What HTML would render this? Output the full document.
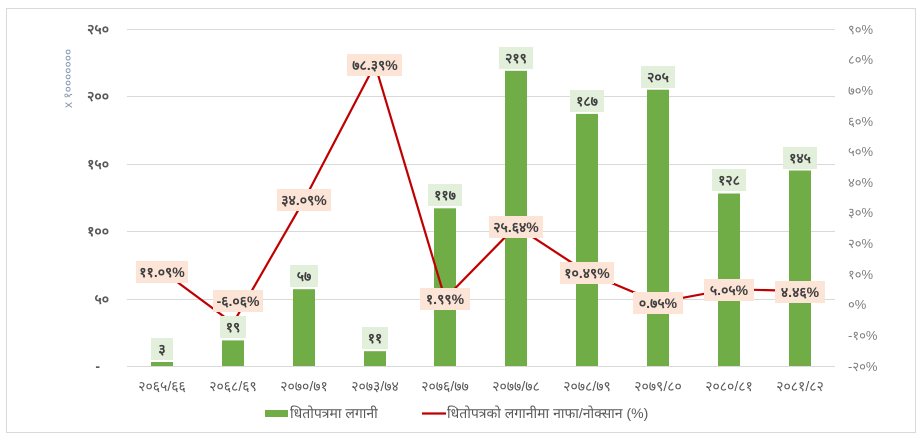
<!DOCTYPE html>
<html><head><meta charset="utf-8"><style>
html,body{margin:0;padding:0;background:#fff;}
svg{display:block;font-family:"Liberation Sans","Noto Sans CJK SC",sans-serif;}
</style></head><body>
<svg width="922" height="441" viewBox="0 0 922 441" xmlns="http://www.w3.org/2000/svg">
<rect x="6.5" y="8.5" width="909" height="424" fill="#fff" stroke="#d9d9d9"/>
<g stroke="#d9d9d9" stroke-width="1">
<line x1="127" x2="835" y1="29.5" y2="29.5"/>
<line x1="127" x2="835" y1="96.5" y2="96.5"/>
<line x1="127" x2="835" y1="164.5" y2="164.5"/>
<line x1="127" x2="835" y1="231.5" y2="231.5"/>
<line x1="127" x2="835" y1="299.5" y2="299.5"/>
<line x1="127" x2="835" y1="366.5" y2="366.5"/>
</g>
<g font-size="14" fill="#595959" text-anchor="end" font-weight="bold">
<text x="109" y="34">२५०</text>
<text x="109" y="101">२००</text>
<text x="109" y="169">१५०</text>
<text x="109" y="236">१००</text>
<text x="109" y="304">५०</text>
<text x="100" y="371">-</text>
</g>
<text transform="translate(72,108) rotate(-90)" font-size="12" fill="#8497b0">x १०००००००</text>
<g font-size="13" fill="#7f7f7f">
<text x="848" y="34">९०%</text>
<text x="848" y="64">८०%</text>
<text x="848" y="95">७०%</text>
<text x="848" y="126">६०%</text>
<text x="848" y="156">५०%</text>
<text x="848" y="187">४०%</text>
<text x="848" y="217">३०%</text>
<text x="848" y="248">२०%</text>
<text x="848" y="279">१०%</text>
<text x="848" y="309">०%</text>
<text x="848" y="340">-१०%</text>
<text x="848" y="371">-२०%</text>
</g>
<g fill="#70ad47">
<rect x="151" y="362" width="22" height="4"/>
<rect x="222" y="340.4" width="22" height="25.6"/>
<rect x="293" y="289.2" width="22" height="76.8"/>
<rect x="364" y="351.2" width="22" height="14.8"/>
<rect x="434" y="208.3" width="22" height="157.7"/>
<rect x="505" y="70.8" width="22" height="295.2"/>
<rect x="576" y="113.9" width="22" height="252.1"/>
<rect x="647" y="89.7" width="22" height="276.3"/>
<rect x="718" y="193.5" width="22" height="172.5"/>
<rect x="789" y="170.5" width="22" height="195.5"/>
</g>
<polyline fill="none" stroke="#c00000" stroke-width="2.2" points="162,270.7 233,323.3 304,200.2 375,64.5 445,298.6 516,226.1 587,272.6 658,302.4 729,289.2 800,291"/>
<g font-size="14" font-weight="bold" fill="#404040" text-anchor="middle">
<rect x="151" y="338" width="22" height="22" fill="#e2efda"/><text x="162" y="354">३</text>
<rect x="220" y="316" width="26" height="22" fill="#e2efda"/><text x="233" y="332">१९</text>
<rect x="290" y="265" width="28" height="22" fill="#e2efda"/><text x="304" y="281">५७</text>
<rect x="362" y="327" width="26" height="22" fill="#e2efda"/><text x="375" y="343">११</text>
<rect x="428" y="184" width="34" height="22" fill="#e2efda"/><text x="445" y="200">११७</text>
<rect x="499" y="47" width="34" height="22" fill="#e2efda"/><text x="516" y="63">२१९</text>
<rect x="570" y="90" width="34" height="22" fill="#e2efda"/><text x="587" y="106">१८७</text>
<rect x="641" y="66" width="34" height="22" fill="#e2efda"/><text x="658" y="82">२०५</text>
<rect x="712" y="169" width="34" height="22" fill="#e2efda"/><text x="729" y="185">१२८</text>
<rect x="783" y="147" width="34" height="22" fill="#e2efda"/><text x="800" y="163">१४५</text>

<rect x="136" y="261" width="52" height="22" fill="#fce4d6"/><text x="162" y="277">११.०९%</text>
<rect x="213" y="290" width="50" height="22" fill="#fce4d6"/><text x="238" y="306">-६.०६%</text>
<rect x="277" y="189" width="54" height="22" fill="#fce4d6"/><text x="304" y="205">३४.०९%</text>
<rect x="347" y="54" width="55" height="22" fill="#fce4d6"/><text x="375" y="70">७८.३९%</text>
<rect x="420" y="288" width="50" height="22" fill="#fce4d6"/><text x="445" y="304">१.९९%</text>
<rect x="489" y="216" width="54" height="22" fill="#fce4d6"/><text x="516" y="232">२५.६४%</text>
<rect x="560" y="262" width="54" height="22" fill="#fce4d6"/><text x="587" y="278">१०.४९%</text>
<rect x="633" y="292" width="50" height="22" fill="#fce4d6"/><text x="658" y="308">०.७५%</text>
<rect x="704" y="279" width="50" height="22" fill="#fce4d6"/><text x="729" y="295">५.०५%</text>
<rect x="775" y="281" width="50" height="22" fill="#fce4d6"/><text x="800" y="297">४.४६%</text>
</g>
<g font-size="14" fill="#595959" text-anchor="middle">
<text x="162" y="391">२०६५/६६</text>
<text x="233" y="391">२०६८/६९</text>
<text x="304" y="391">२०७०/७१</text>
<text x="375" y="391">२०७३/७४</text>
<text x="445" y="391">२०७६/७७</text>
<text x="516" y="391">२०७७/७८</text>
<text x="587" y="391">२०७८/७९</text>
<text x="658" y="391">२०७९/८०</text>
<text x="729" y="391">२०८०/८१</text>
<text x="800" y="391">२०८१/८२</text>
</g>
<rect x="265" y="410" width="23" height="7" fill="#70ad47"/>
<text x="290" y="418" font-size="14" fill="#595959">धितोपत्रमा लगानी</text>
<line x1="422" x2="446" y1="413.5" y2="413.5" stroke="#c00000" stroke-width="2.2"/>
<text x="447" y="418" font-size="14" fill="#595959">धितोपत्रको लगानीमा नाफा/नोक्सान (%)</text>
</svg>
</body></html>
